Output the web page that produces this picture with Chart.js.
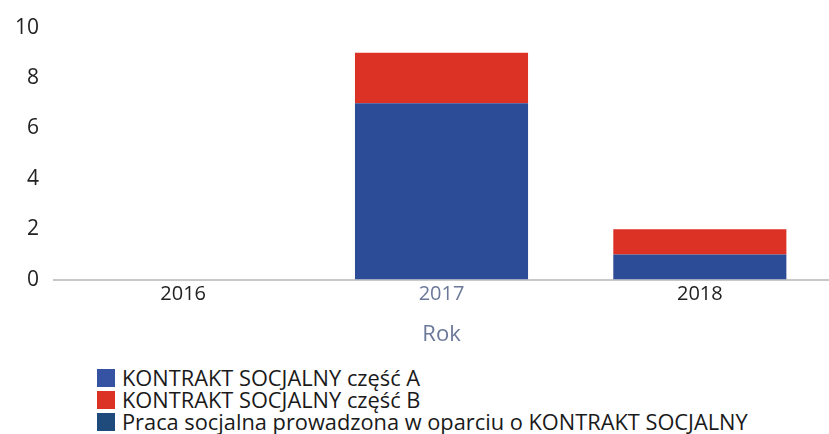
<!DOCTYPE html>
<html>
<head>
<meta charset="utf-8">
<script src="https://cdn.jsdelivr.net/npm/chart.js@4/dist/chart.umd.min.js"></script>
<style>
  html, body { margin: 0; padding: 0; background: #fff; }
  #wrap { position: relative; width: 829px; height: 434px; }
  #c { position: absolute; left: 0; top: 0; }
  #legend { position: absolute; left: 97px; top: 367px; font-family: 'Open Sans', sans-serif; font-size: 21.8px; color: #1a1a1a; }
  #legend div { height: 22px; line-height: 22px; display: flex; align-items: center; white-space: nowrap; }
  #legend span.box { display: inline-block; width: 18px; height: 18px; margin-right: 7px; }
</style>
</head>
<body>
<div id="wrap">
  <canvas id="c" width="829" height="352"></canvas>
  <div id="legend"></div>
</div>
<script>
const categories = ["2016", "2017", "2018"];
const seriesNames = ["KONTRAKT SOCJALNY część A", "KONTRAKT SOCJALNY część B", "Praca socjalna prowadzona w oparciu o KONTRAKT SOCJALNY"];
const partA = [0, 7, 1];
const partB = [0, 2, 1];
const pracaSocjalna = [0, 0, 0];
const yTicks = [0, 2, 4, 6, 8, 10];
const colors = ["#2d4c97", "#dc3226", "#1f4a7c"];
const legendColors = ["#3653a3", "#dc3226", "#1f4a7c"];
const xTickColors = ["#222222", "#6b7899", "#222222"];

const datasets = [partA, partB, pracaSocjalna].map((d, i) => ({
  label: seriesNames[i],
  data: d,
  backgroundColor: colors[i],
  borderWidth: 0,
  barPercentage: 0.67,
  categoryPercentage: 1.0
}));

new Chart(document.getElementById('c'), {
  type: 'bar',
  data: { labels: categories, datasets },
  options: {
    responsive: false,
    animation: false,
    layout: { padding: { top: 4, right: 0, left: 0, bottom: 0 } },
    plugins: { legend: { display: false }, tooltip: { enabled: false } },
    scales: {
      x: {
        stacked: true,
        grid: { display: false, drawTicks: false },
        border: { display: true, color: '#c8c8c8', width: 2 },
        ticks: { font: { family: 'Open Sans', size: 20 }, color: xTickColors, padding: 3 },
        title: { display: true, text: 'Rok', font: { family: 'Open Sans', size: 22 }, color: '#6b7899', padding: { top: 12, bottom: 4 } }
      },
      y: {
        stacked: true,
        min: 0, max: 10,
        afterBuildTicks: (axis) => { axis.ticks = yTicks.map(v => ({ value: v })); },
        grid: { display: false, drawTicks: false },
        border: { display: false },
        ticks: { font: { family: 'Open Sans', size: 21 }, color: '#222222', padding: 15 }
      }
    }
  }
});

const lg = document.getElementById('legend');
seriesNames.forEach((n, i) => {
  const row = document.createElement('div');
  const b = document.createElement('span');
  b.className = 'box';
  b.style.background = legendColors[i];
  row.appendChild(b);
  row.appendChild(document.createTextNode(n));
  lg.appendChild(row);
});
</script>
</body>
</html>
